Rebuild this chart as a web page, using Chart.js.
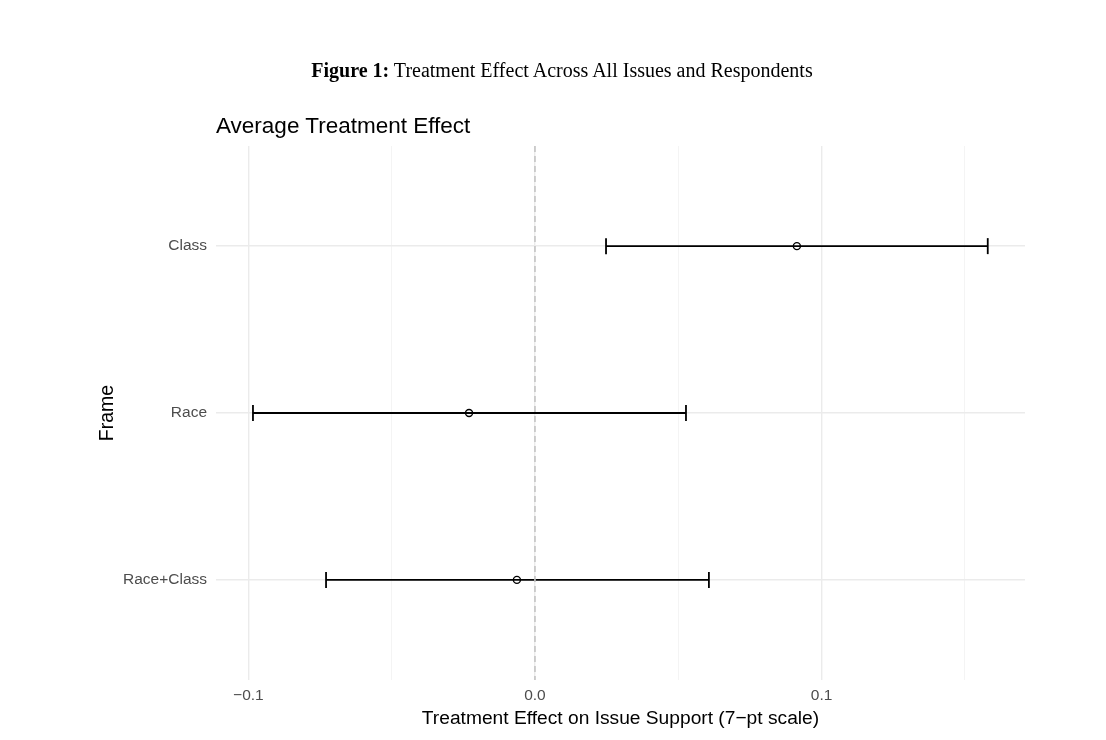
<!DOCTYPE html>
<html>
<head>
<meta charset="utf-8">
<script src="https://cdn.jsdelivr.net/npm/chart.js@4.4.1/dist/chart.umd.min.js"></script>
<style>
  html, body { margin: 0; padding: 0; background: #fff; }
  #wrap { position: relative; width: 1106px; height: 740px; }
  #caption { position: absolute; top: 59px; left: 0; width: 1124px; text-align: center;
    font-family: "Liberation Serif", serif; font-size: 20px; color: #000; }
  #subtitle { position: absolute; top: 113px; left: 216px;
    font-family: "Liberation Sans", Arial, sans-serif; font-size: 22.5px; color: #000; }
</style>
</head>
<body>
<div id="wrap">
  <canvas id="effectChart" width="1106" height="740"></canvas>
  <div id="caption"><b>Figure 1:</b> Treatment Effect Across All Issues and Respondents</div>
  <div id="subtitle">Average Treatment Effect</div>
</div>
<script>
// Frames and estimated effects
const frames = ['Class', 'Race', 'Race+Class'];
const estimates = [0.0914, -0.0230, -0.0063];
const lowerCI = [0.0248, -0.0984, -0.0729];
const upperCI = [0.1580, 0.0527, 0.0607];

const xTicks = [-0.1, -0.05, 0, 0.05, 0.1, 0.15];
const xMajor = [-0.1, 0, 0.1];

const ctx = document.getElementById('effectChart').getContext('2d');
Chart.defaults.font.family = '"Liberation Sans", Arial, sans-serif';

const isMajor = v => xMajor.some(m => Math.abs(m - v) < 1e-9);

const datasets = [];
// dashed reference line at zero
datasets.push({
  data: [{x: 0, y: 0.4}, {x: 0, y: 3.6}],
  showLine: true, borderColor: '#c4c4c4', borderWidth: 1.6, borderDash: [6, 4],
  pointRadius: 0
});
frames.forEach((f, i) => {
  datasets.push({
    data: [{x: lowerCI[i], y: i + 1}, {x: upperCI[i], y: i + 1}],
    showLine: true, borderColor: '#000', borderWidth: 1.8,
    pointStyle: 'line', rotation: 90, pointRadius: 8,
    pointBorderColor: '#000', pointBorderWidth: 1.8
  });
});
datasets.push({
  data: frames.map((f, i) => ({x: estimates[i], y: i + 1})),
  showLine: false, pointStyle: 'circle', pointRadius: 3.5,
  pointBackgroundColor: '#fff', pointBorderColor: '#000', pointBorderWidth: 1.4
});

new Chart(ctx, {
  type: 'scatter',
  data: { datasets: datasets },
  options: {
    responsive: false,
    animation: false,
    layout: { padding: { left: 96, right: 81, top: 146, bottom: 10 } },
    plugins: { legend: { display: false }, tooltip: { enabled: false }, title: { display: false } },
    scales: {
      x: {
        type: 'linear', min: -0.1113, max: 0.171,
        afterBuildTicks: s => { s.ticks = xTicks.map(v => ({value: v})); },
        afterFit: s => { s.height = 50; },
        border: { display: false },
        grid: {
          drawTicks: false,
          color: c => isMajor(c.tick.value) ? '#ebebeb' : '#f4f4f4',
          lineWidth: c => isMajor(c.tick.value) ? 1.4 : 1
        },
        ticks: {
          padding: 6, color: '#4d4d4d', font: { size: 15.5 },
          callback: v => {
            if (!isMajor(v)) return '';
            return v < 0 ? '\u2212' + Math.abs(v).toFixed(1) : v.toFixed(1);
          }
        },
        title: { display: true, text: 'Treatment Effect on Issue Support (7\u2212pt scale)',
          color: '#000', font: { size: 19.2 }, padding: { top: 0, bottom: 0 } }
      },
      y: {
        type: 'linear', min: 0.4, max: 3.6, reverse: true,
        afterBuildTicks: s => { s.ticks = frames.map((f, i) => ({value: i + 1})); },
        afterFit: s => { s.width = 216 - 96; },
        border: { display: false },
        grid: { drawTicks: false, color: '#ebebeb', lineWidth: 1.4 },
        ticks: { padding: 9, color: '#4d4d4d', font: { size: 15.5 },
          callback: v => frames[Math.round(v) - 1] },
        title: { display: true, text: 'Frame', color: '#000', font: { size: 19.5 }, padding: 0 }
      }
    }
  }
});
</script>
</body>
</html>
